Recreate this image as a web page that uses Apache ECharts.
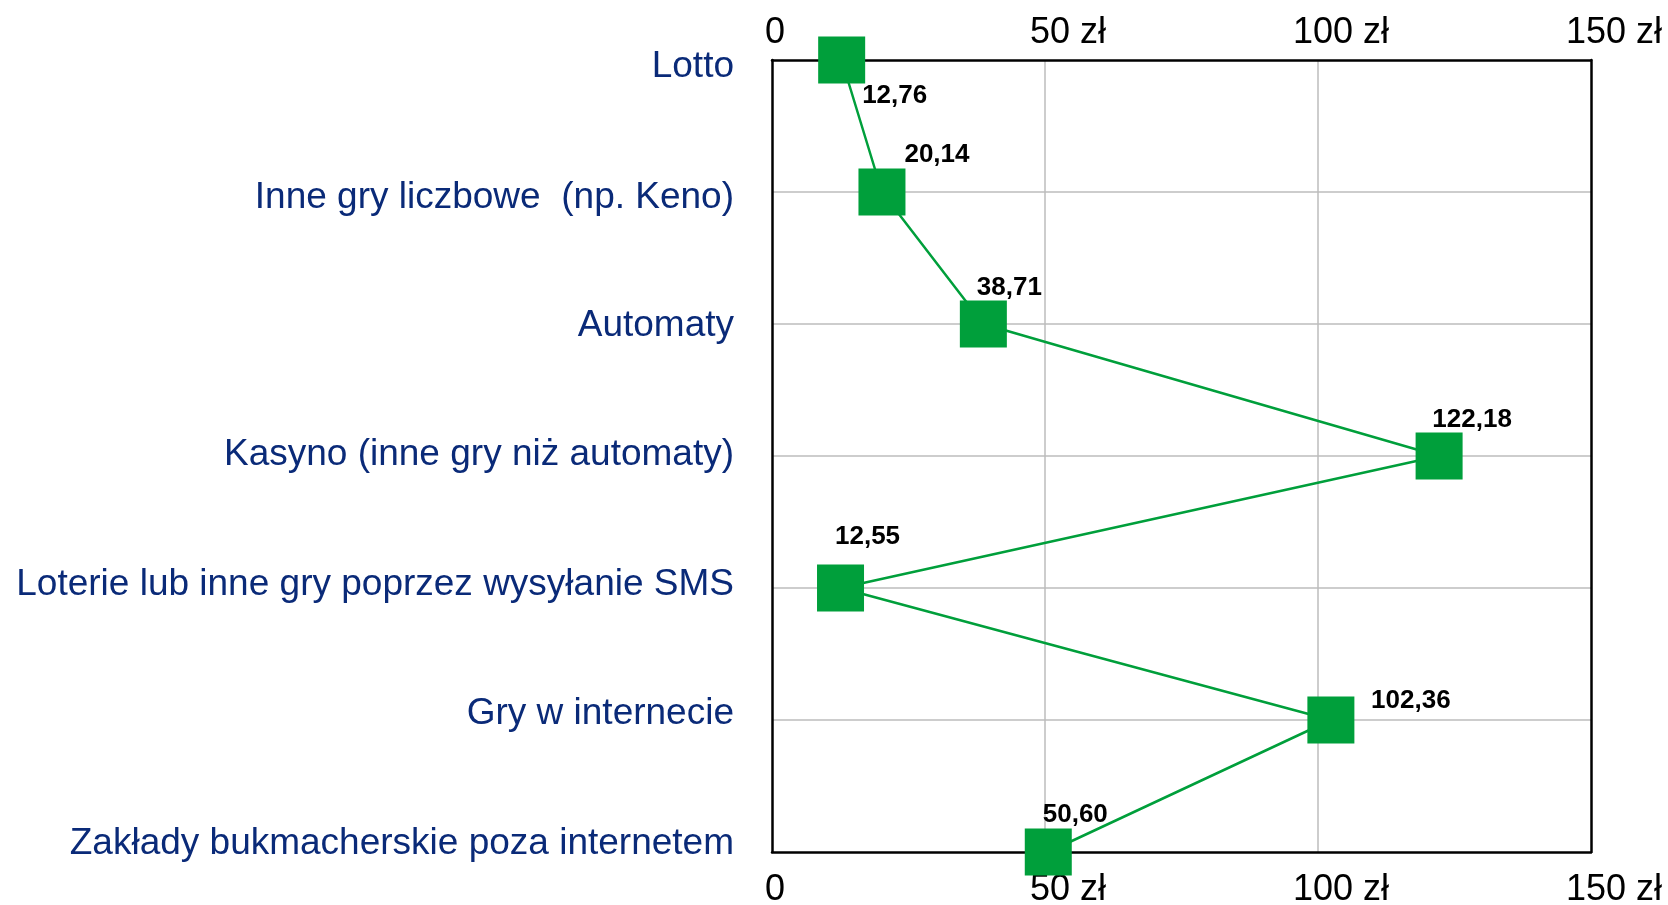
<!DOCTYPE html>
<html>
<head>
<meta charset="utf-8">
<script src="https://cdn.jsdelivr.net/npm/echarts@6/dist/echarts.min.js"></script>
<style>html,body{margin:0;padding:0;background:#fff}#c{width:1668px;height:905px}</style>
</head>
<body>
<div id="c"></div>
<script>
const categories = [
  'Lotto',
  'Inne gry liczbowe  (np. Keno)',
  'Automaty',
  'Kasyno (inne gry niż automaty)',
  'Loterie lub inne gry poprzez wysyłanie SMS',
  'Gry w internecie',
  'Zakłady bukmacherskie poza internetem'
];
const values = [12.76, 20.14, 38.71, 122.18, 12.55, 102.36, 50.60];
const labelOffsets = [[53, 36], [55, -37], [26, -36], [33, -36], [27, -51], [80, -19], [27, -37]];
const categoryLabelNudge = [7, 6, 2, -1, -3, -6, -8];

const green = '#009F3B';
const chart = echarts.init(document.getElementById('c'));

function tickFmt(v) {
  return v === 0 ? '{z|0}' : '{n|' + v + ' zł}';
}
const tickRich = {
  z: { fontSize: 36, color: '#000', fontFamily: 'Liberation Sans, Arial', padding: [0, 0, 0, 6] },
  n: { fontSize: 36, color: '#000', fontFamily: 'Liberation Sans, Arial', padding: [0, 0, 0, 46] }
};
const catRich = {};
categoryLabelNudge.forEach((n, i) => {
  catRich['c' + i] = {
    fontSize: 37, color: '#0A2A78', fontFamily: 'Liberation Sans, Arial',
    padding: n >= 0 ? [2 * n, 0, 0, 0] : [0, 0, -2 * n, 0]
  };
});

chart.setOption({
  animation: false,
  grid: { left: 772, right: 77, top: 60, bottom: 53, show: false, containLabel: false, outerBoundsMode: 'none' },
  xAxis: [
    {
      type: 'value', position: 'top', min: 0, max: 150, interval: 50,
      axisLine: { show: true, onZero: false, lineStyle: { color: '#000', width: 2.5 } }, axisTick: { show: false },
      axisLabel: { formatter: tickFmt, rich: tickRich, margin: 9 },
      splitLine: { show: true, showMinLine: false, showMaxLine: false, lineStyle: { color: '#BDBDBD', width: 1.5 } }
    },
    {
      type: 'value', position: 'bottom', min: 0, max: 150, interval: 50,
      axisLine: { show: true, onZero: false, lineStyle: { color: '#000', width: 2.5 } }, axisTick: { show: false },
      axisLabel: { formatter: tickFmt, rich: tickRich, margin: 20 },
      splitLine: { show: false }
    }
  ],
  yAxis: [
    {
      type: 'category', data: categories, inverse: true, boundaryGap: false, position: 'left',
      axisLine: { show: true, onZero: false, lineStyle: { color: '#000', width: 2.5 } }, axisTick: { show: false },
      axisLabel: {
        margin: 38,
        formatter: (v, i) => '{c' + i + '|' + v + '}',
        rich: catRich
      },
      splitLine: { show: true, showMinLine: false, showMaxLine: false, lineStyle: { color: '#BDBDBD', width: 1.5 } }
    },
    {
      type: 'category', data: categories, inverse: true, boundaryGap: false, position: 'right',
      axisLine: { show: true, onZero: false, lineStyle: { color: '#000', width: 2.5 } }, axisTick: { show: false },
      axisLabel: { show: false }, splitLine: { show: false }
    }
  ],
  series: [{
    type: 'line',
    xAxisIndex: 0,
    yAxisIndex: 0,
    data: values.map((v, i) => ({
      value: v,
      label: { offset: labelOffsets[i] }
    })),
    clip: false,
    symbol: 'rect',
    symbolSize: 47,
    itemStyle: { color: green },
    lineStyle: { color: green, width: 2.5 },
    label: {
      show: true, position: 'inside', color: '#000', fontWeight: 'bold', fontSize: 26,
      fontFamily: 'Liberation Sans, Arial',
      formatter: p => p.value.toFixed(2).replace('.', ',')
    },
    z: 5
  }]
});
</script>
</body>
</html>
